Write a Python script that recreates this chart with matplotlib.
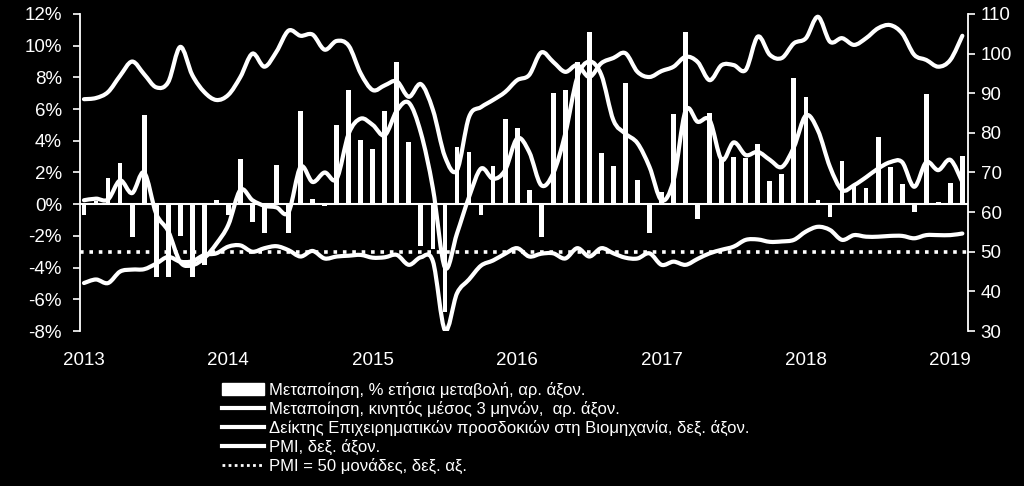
import numpy as np
import matplotlib
matplotlib.use("Agg")
import matplotlib.pyplot as plt
from matplotlib.path import Path
from matplotlib.patches import PathPatch, Patch
from matplotlib.lines import Line2D

plt.rcParams['font.family'] = ['Liberation Sans', 'DejaVu Sans']

# monthly data, Jan 2013 - Feb 2019
year_labels = ['2013', '2014', '2015', '2016', '2017', '2018', '2019']

# manufacturing, % y/y (left axis)
manuf_yoy = [-0.7, 0.2, 1.65, 2.6, -2.1, 5.65, -4.6, -4.6, -2.0, -4.6, -3.85, 0.25,
             -0.7, 2.85, -1.15, -1.8, 2.5, -1.8, 5.9, 0.35, -0.1, 5.0, 7.2, 4.05,
             3.5, 5.85, 9.0, 3.9, -2.65, -2.8, -6.8, 3.6, 3.3, -0.7, 2.4, 5.35,
             4.8, 0.9, -2.1, 7.0, 7.2, 9.0, 10.85, 3.2, 2.4, 7.65, 1.5, -1.8,
             0.75, 5.7, 10.85, -0.95, 5.75, 3.0, 3.0, 2.9, 3.8, 1.45, 1.9, 7.95,
             6.75, 0.25, -0.8, 2.7, 1.15, 1.0, 4.25, 2.35, 1.25, -0.5, 6.95, 0.15,
             1.35, 3.05]

# manufacturing, 3-month moving average (left axis)
manuf_ma3 = [0.25, 0.35, 0.3, 1.5, 0.7, 2.0, -0.6, -1.7, -3.65, -3.85, -3.4, -2.5,
             -1.3, 0.9, 0.25, -0.1, -0.2, -0.5, 2.35, 1.4, 2.0, 1.6, 4.45, 5.4,
             5.0, 4.35, 5.9, 6.4, 4.5, 1.0, -4.0, -1.85, 0.45, 2.25, 1.6, 2.15,
             4.15, 3.3, 1.2, 1.95, 4.45, 8.0, 9.0, 8.15, 5.3, 4.45, 3.85, 2.35,
             0.25, 1.5, 5.9, 5.2, 5.3, 2.8, 3.9, 3.1, 3.3, 2.8, 2.35, 3.6,
             5.6, 4.65, 2.35, 0.9, 1.2, 1.7, 2.25, 2.65, 2.65, 1.1, 2.65, 2.15,
             2.8, 1.4]

# business expectations in industry (right axis)
expect_idx = [88.5, 88.8, 90.3, 94.4, 98.0, 94.8, 91.5, 92.8, 101.7, 94.6, 90.3, 88.3,
              89.6, 94.1, 100.0, 96.7, 100.5, 105.8, 104.5, 104.8, 101.0, 103.2, 102.0, 95.0,
              90.8, 92.0, 93.0, 89.1, 92.3, 85.8, 74.0, 70.6, 84.0, 86.5, 88.3, 90.3,
              93.3, 94.6, 100.3, 97.9, 95.4, 97.1, 94.1, 97.6, 98.9, 100.1, 95.4, 94.1,
              95.6, 96.7, 99.2, 97.9, 93.3, 97.1, 97.1, 95.9, 104.3, 99.7, 98.9, 102.6,
              103.9, 109.3, 103.0, 103.9, 102.2, 103.9, 106.4, 107.2, 105.1, 99.7, 98.4, 96.7,
              98.4, 104.5]

# PMI (right axis)
pmi = [42.1, 43.0, 42.1, 45.0, 45.5, 45.6, 47.0, 48.7, 47.5, 47.6, 49.2, 49.6,
       51.3, 51.6, 50.0, 50.9, 51.4, 50.4, 48.8, 50.2, 48.3, 48.8, 49.0, 49.2,
       48.5, 48.6, 49.2, 46.7, 48.6, 47.6, 30.2, 39.5, 43.0, 46.5, 47.8, 49.5,
       50.9, 48.8, 49.5, 49.6, 48.3, 50.9, 48.8, 50.9, 49.6, 48.5, 48.3, 49.6,
       46.7, 47.5, 46.7, 48.2, 49.6, 50.5, 51.3, 53.0, 53.1, 52.5, 52.6, 53.0,
       55.1, 56.3, 55.5, 53.0, 54.2, 53.8, 53.8, 54.0, 54.0, 53.4, 54.2, 54.2,
       54.2, 54.6]
pmi_ref = 50

labels = ['Μεταποίηση, % ετήσια μεταβολή, αρ. άξον.',
          'Μεταποίηση, κινητός μέσος 3 μηνών,  αρ. άξον.',
          'Δείκτης Επιχειρηματικών προσδοκιών στη Βιομηχανία, δεξ. άξον.',
          'PMI, δεξ. άξον.',
          'PMI = 50 μονάδες, δεξ. αξ.']


def smooth_path(x, y):
    # excel-like smoothed line: catmull-rom through the points as cubic beziers
    pts = np.column_stack([np.asarray(x, float), np.asarray(y, float)])
    ext = np.vstack([pts[0], pts, pts[-1]])
    verts = [pts[0]]
    codes = [Path.MOVETO]
    for i in range(len(pts) - 1):
        p0, p1, p2, p3 = ext[i], ext[i + 1], ext[i + 2], ext[i + 3]
        verts += [p1 + (p2 - p0) / 6, p2 - (p3 - p1) / 6, p2]
        codes += [Path.CURVE4] * 3
    return Path(verts, codes)


def add_line(ax, x, y, lw=3.0):
    ax.add_patch(PathPatch(smooth_path(x, y), fill=False, edgecolor='white',
                           lw=lw, capstyle='round', joinstyle='round', zorder=3))


months = np.arange(len(manuf_yoy))

fig = plt.figure(figsize=(10.24, 4.86), dpi=100, facecolor='black')
ax = fig.add_axes([80 / 1024, 1 - 331 / 486, 888 / 1024, 317 / 486])
ax.set_facecolor('black')
ax2 = ax.twinx()

ax.bar(months, manuf_yoy, width=0.4, color='white', zorder=2)
add_line(ax, months, manuf_ma3)
ax.axhline(0, color='white', lw=1.5, zorder=2)

add_line(ax2, months, expect_idx)
add_line(ax2, months, pmi)
ax2.axhline(pmi_ref, color='white', lw=2.6, ls=(0, (1, 1.6)), zorder=3)

ax.set_xlim(-0.33, 73.47)
ax.set_ylim(-8, 12)
ax2.set_ylim(30, 110)

ax.set_yticks(np.arange(-8, 13, 2))
ax.set_yticklabels([f'{v}%' for v in range(-8, 13, 2)])
ax2.set_yticks(np.arange(30, 111, 10))
ax.set_xticks(months[::12])
ax.set_xticklabels(year_labels)

for a in (ax, ax2):
    for s in ('top', 'bottom'):
        a.spines[s].set_visible(False)
    for s in ('left', 'right'):
        a.spines[s].set_color('white')
        a.spines[s].set_linewidth(1.3)
ax.spines['right'].set_visible(False)
ax2.spines['left'].set_visible(False)

ax.tick_params(axis='y', colors='white', labelsize=13.5, length=5, width=1.2, pad=8)
ax2.tick_params(axis='y', colors='white', labelsize=13.5, length=5, width=1.2, pad=4)
ax.tick_params(axis='x', colors='white', labelsize=13.5, length=0, pad=15)

handles = [Patch(facecolor='white', edgecolor='white'),
           Line2D([], [], color='white', lw=3),
           Line2D([], [], color='white', lw=3),
           Line2D([], [], color='white', lw=3),
           Line2D([], [], color='white', lw=2, ls=(0, (1, 1.2)))]
leg = fig.legend(handles, labels, loc='upper left', bbox_to_anchor=(222 / 1024, 1 - 382 / 486),
                 frameon=False, handlelength=2.5, handletextpad=0.3, labelspacing=0.17,
                 borderpad=0, borderaxespad=0, labelcolor='white', fontsize=12)

fig.savefig('out.png', dpi=100, facecolor='black')
